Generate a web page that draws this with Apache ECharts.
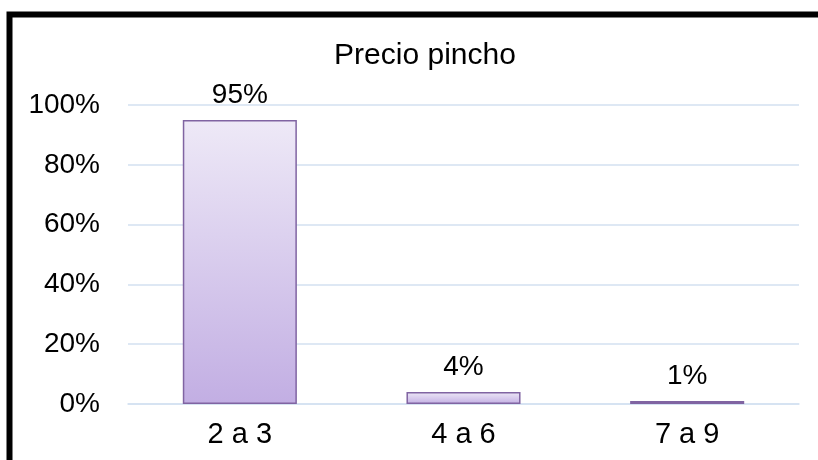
<!DOCTYPE html>
<html>
<head>
<meta charset="utf-8">
<script src="https://cdn.jsdelivr.net/npm/echarts@6/dist/echarts.min.js"></script>
<style>
  html, body { margin: 0; padding: 0; background: #fff; }
  #chart { width: 818px; height: 460px; }
</style>
</head>
<body>
<div id="chart"></div>
<script>
// Price ranges for a pincho and share of answers
const chartTitle = 'Precio pincho';
const categories = ['2 a 3', '4 a 6', '7 a 9'];
const shares = [0.95, 0.04, 0.01];
const yTicks = [0, 0.2, 0.4, 0.6, 0.8, 1.0];

const FONT = '"Liberation Sans", Arial, sans-serif';
const pct = v => Math.round(v * 100) + '%';

const chart = echarts.init(document.getElementById('chart'), null, { renderer: 'canvas' });

chart.setOption({
  animation: false,
  backgroundColor: '#ffffff',
  textStyle: { fontFamily: FONT },
  title: {
    text: chartTitle,
    left: 420,
    top: 36,
    textAlign: 'center',
    textStyle: { fontFamily: FONT, fontSize: 30, fontWeight: 'normal', color: '#000' }
  },
  grid: { left: 128, right: 19, top: 105, bottom: 56, containLabel: false },
  xAxis: {
    type: 'category',
    data: categories,
    axisTick: { show: false },
    axisLine: { show: true, lineStyle: { color: '#D3E1F1', width: 1.5 } },
    axisLabel: { margin: 16, fontFamily: FONT, fontSize: 29, color: '#000' }
  },
  yAxis: {
    type: 'value',
    min: yTicks[0],
    max: yTicks[yTicks.length - 1],
    interval: yTicks[1] - yTicks[0],
    axisLine: { show: false },
    axisTick: { show: false },
    splitLine: { lineStyle: { color: '#D3E1F1', width: 1.5 } },
    axisLabel: { margin: 28, fontFamily: FONT, fontSize: 28, color: '#000', formatter: pct }
  },
  series: [{
    type: 'bar',
    data: shares,
    barWidth: '51%',
    itemStyle: {
      color: new echarts.graphic.LinearGradient(0, 0, 0, 1, [
        { offset: 0, color: '#EEE9F7' },
        { offset: 1, color: '#C2AEE3' }
      ]),
      borderColor: '#8064A2',
      borderWidth: 1.5
    },
    label: {
      show: true,
      position: 'top',
      distance: 11,
      fontFamily: FONT,
      fontSize: 28,
      color: '#000',
      formatter: p => pct(p.value)
    }
  }],
  graphic: [{
    type: 'rect',
    shape: { x: 9.5, y: 14.5, width: 900, height: 600 },
    style: { fill: 'none', stroke: '#000', lineWidth: 6 },
    silent: true,
    z: 100
  }]
});
</script>
</body>
</html>
